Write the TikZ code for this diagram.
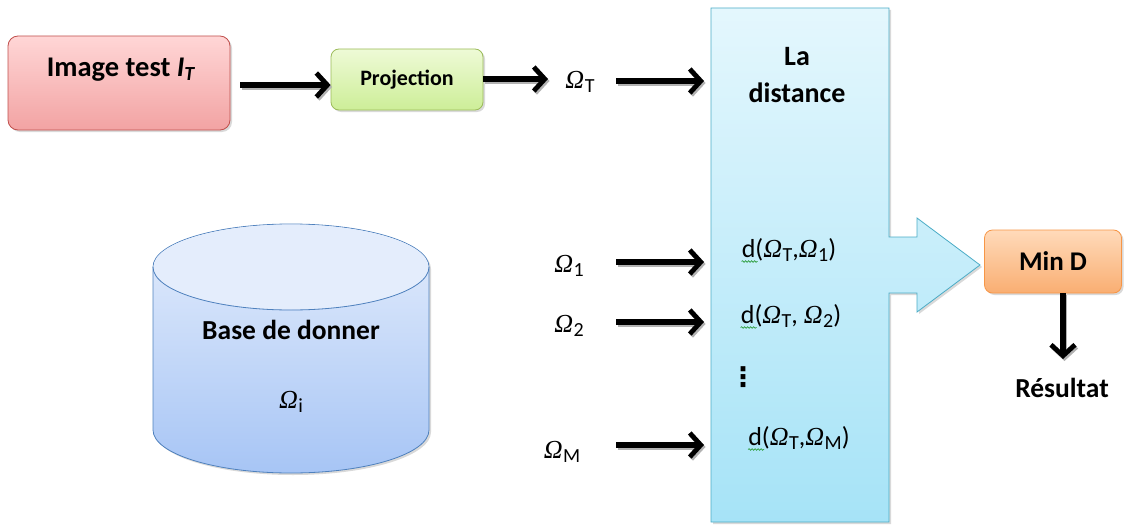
\documentclass[tikz,border=0pt]{standalone}
\usepackage{fontspec}
\setmainfont{Carlito}
\newfontfamily\omfont{Liberation Serif}
\newfontfamily\symfont{DejaVu Sans}
\usetikzlibrary{arrows.meta,shadows,decorations.pathmorphing,calc}

\definecolor{redtop}{HTML}{FFD6D6}
\definecolor{redbot}{HTML}{F2A3A3}
\definecolor{redline}{HTML}{C0504D}
\definecolor{greentop}{HTML}{EEFAD6}
\definecolor{greenbot}{HTML}{CDEE98}
\definecolor{greenline}{HTML}{9BBB59}
\definecolor{cyantop}{HTML}{E4F7FD}
\definecolor{cyanbot}{HTML}{A6E3F7}
\definecolor{cyanline}{HTML}{4BACC6}
\definecolor{orangetop}{HTML}{FFDABA}
\definecolor{orangebot}{HTML}{F9AE72}
\definecolor{orangeline}{HTML}{F79646}
\definecolor{bluetop}{HTML}{E4EDFC}
\definecolor{bluebot}{HTML}{A7C5F5}
\definecolor{blueline}{HTML}{4F81BD}
\definecolor{spell}{HTML}{2E9E3E}

% italic Omega with a lowered sans subscript
\newcommand{\Om}[1]{{\omfont\itshape\fontsize{26}{28}\selectfont Ω}\kern0.5pt\raisebox{-4pt}{\fontsize{20}{22}\selectfont #1}}

\tikzset{
  x=1pt, y=-1pt,
  every node/.style={font=\bfseries, inner sep=0pt},
  softshadow/.style={drop shadow={opacity=0.3, shadow xshift=2pt, shadow yshift=-2pt}},
  flow/.style={line width=5.5pt,
    -{Straight Barb[length=11pt,width=24pt,line width=4.8pt]}},
  flowshadow/.style={flow, draw=black!30,
    transform canvas={xshift=1.5pt,yshift=-2pt}},
  label/.style={font=\bfseries\fontsize{27.5}{32}\selectfont},
  sym/.style={font=\fontsize{26}{30}\selectfont},
  squiggle/.style={draw=spell, line width=0.7pt,
    decorate, decoration={snake, amplitude=0.8pt, segment length=3pt}}
}
% connector with its soft offset shadow
\newcommand{\flowto}[2]{%
  \draw[flowshadow] #1 -- #2;
  \draw[flow] #1 -- #2;}

\begin{document}
\begin{tikzpicture}
\useasboundingbox (0,0) rectangle (1127,527);

% input image
\path[softshadow, rounded corners=10pt, draw=redline, line width=0.8pt,
      top color=redtop, bottom color=redbot] (8,36) rectangle (230,130);
\node[label, font=\bfseries\fontsize{28.5}{32}\selectfont] (img) at (121,70)
  {Image test \textit{I}\raisebox{-4pt}{\fontsize{20}{24}\selectfont\textit{T}}};
\coordinate (imgE) at (240,85);

% projection step
\node[softshadow, rounded corners=8pt, draw=greenline, line width=0.8pt,
      top color=greentop, bottom color=greenbot,
      minimum width=152pt, minimum height=61pt, font=\bfseries\fontsize{22}{26}\selectfont]
  (proj) at (407,79.5) {Projection};

\node[sym] (omT) at (580,82) {\Om{T}};

% distance block with its output arrow
\path[softshadow, draw=cyanline, line width=0.8pt, top color=cyantop, bottom color=cyanbot]
  (711,8) -- (889,8) -- (889,237) -- (917,237) -- (917,218) -- (980,265)
  -- (917,312) -- (917,293) -- (889,293) -- (889,522) -- (711,522) -- cycle;
\coordinate (distW1) at (704,81);
\coordinate (distW2) at (704,262);
\coordinate (distW3) at (704,322);
\coordinate (distW4) at (704,445);
\node[label, align=center, font=\bfseries\fontsize{28}{37}\selectfont] (dist) at (797,75) {La\\distance};

\node[sym] (d1) at (789,250) {d(\Om{T},\Om{1})};
\node[sym] (d2) at (791,316) {d(\Om{T}, \Om{2})};
\node[font=\symfont\bfseries\fontsize{27}{30}\selectfont] (dots) at (743,377) {⋮};
\node[sym] (dM) at (799,438) {d(\Om{T},\Om{M})};
\foreach \d in {d1,d2,dM}
  \draw[squiggle] ($(\d.base west)+(0,4)$) -- ++(16,0);

% database
\path[softshadow, draw=blueline, line width=0.8pt, top color=bluetop, bottom color=bluebot]
  (153,267) -- (153,430) arc[start angle=180, end angle=360, x radius=138pt, y radius=43pt]
  -- (429,267) arc[start angle=0, end angle=180, x radius=138pt, y radius=43pt] -- cycle;
\fill[bluetop] (291,267) ellipse[x radius=137.5pt, y radius=42.5pt];
\draw[blueline, line width=0.8pt] (153,267) arc[start angle=180, end angle=360, x radius=138pt, y radius=43pt];
\node[label] (base) at (291,330) {Base de donner};
\node[sym] (omi) at (291,402) {\Om{i}};

\node[sym] (om1) at (569,266) {\Om{1}};
\node[sym] (om2) at (569,326) {\Om{2}};
\node[sym] (omM) at (562,452) {\Om{M}};

% minimum
\node[softshadow, rounded corners=8pt, draw=orangeline, line width=0.8pt,
      top color=orangetop, bottom color=orangebot,
      minimum width=137pt, minimum height=63pt, font=\bfseries\fontsize{27}{32}\selectfont]
  (min) at (1053,261.5) {Min D};
\node[label] (res) at (1062,388) {Résultat};

% connectors
\flowto{(imgE)}{(proj.west |- imgE)}
\flowto{(proj.east |- 0,79)}{(548,79)}
\flowto{(616,81)}{(distW1)}
\flowto{(616,262)}{(distW2)}
\flowto{(616,322)}{(distW3)}
\flowto{(616,445)}{(distW4)}
\flowto{(min.south -| 1063,0)}{(1063,359)}
\end{tikzpicture}
\end{document}
